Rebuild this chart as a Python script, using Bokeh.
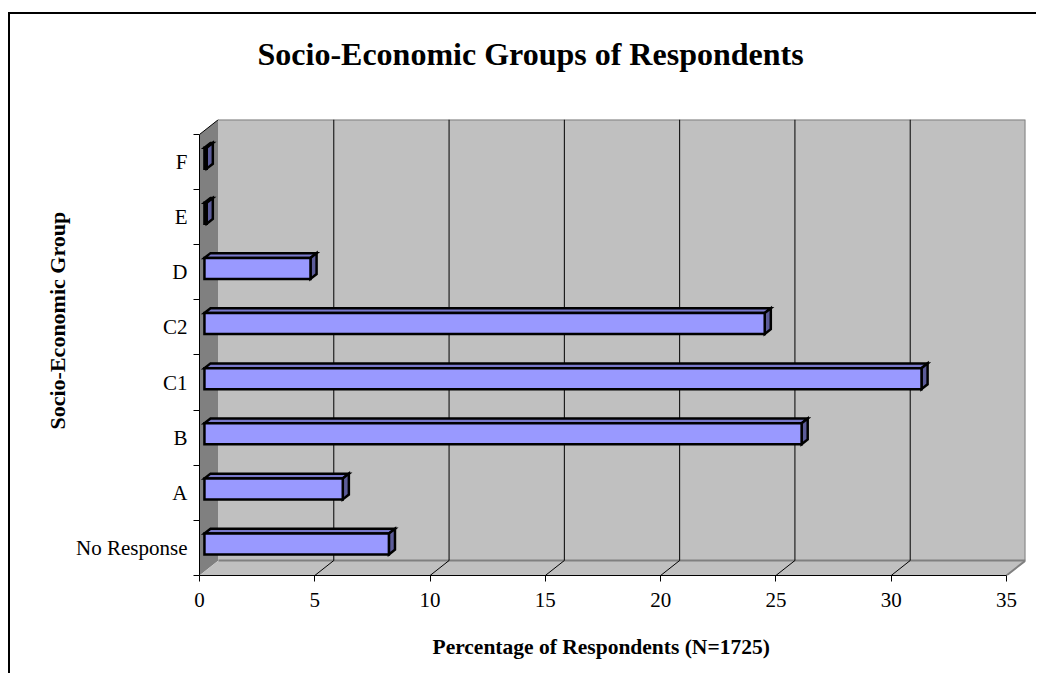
from bokeh.plotting import figure
from bokeh.models import Range1d, FixedTicker, Title, LinearAxis
from bokeh.embed import file_html
from bokeh.resources import INLINE

# ---- data -------------------------------------------------------------
groups = ["No Response", "A", "B", "C1", "C2", "D", "E", "F"]
percent = [8.0, 6.0, 25.9, 31.1, 24.3, 4.6, 0.1, 0.1]
x_ticks = [0, 5, 10, 15, 20, 25, 30, 35]

title_text = "Socio-Economic Groups of Respondents"
x_title = "Percentage of Respondents (N=1725)"
y_title = "Socio-Economic Group"

# ---- 3-D box geometry (data units) ------------------------------------
X_MAX = 35.0
N = len(groups)
DX, DY = 0.824, 0.272      # depth offset of the back wall
F1, F2 = 0.26, 0.58        # front / back depth of each bar
H = 0.19                   # half height of a bar

FRONT_FILL = "#9999FF"
TOP_FILL = "#7A7ACC"
SIDE_FILL = "#5C5C99"
WALL_FILL = "#C0C0C0"
SIDE_WALL_FILL = "#808080"
EDGE_GRAY = "#808080"

SERIF = "Liberation Serif"

W, HGT = 1028, 661
ML, MR, MT, MB = 189, 13, 105, 100

x0, x1 = 0.0, X_MAX + DX
y0, y1 = -0.5, N - 0.5 + DY

p = figure(width=W, height=HGT, output_backend="svg", toolbar_location=None,
           x_range=Range1d(x0, x1), y_range=Range1d(y0, y1),
           min_border_left=ML, min_border_right=MR,
           min_border_top=MT, min_border_bottom=MB)
p.styles = {"border-top": "2px solid black", "border-left": "2px solid black",
            "margin-left": "8px", "margin-top": "12px"}
p.xgrid.visible = False
p.ygrid.visible = False
p.outline_line_color = None
p.background_fill_color = "white"
p.border_fill_color = "white"

# ---- walls and floor --------------------------------------------------
p.patch([0, DX, DX, 0], [y0, y0 + DY, N - 0.5 + DY, N - 0.5],
        fill_color=SIDE_WALL_FILL, line_color=None)
p.patch([DX, X_MAX + DX, X_MAX + DX, DX], [y0 + DY, y0 + DY, y1, y1],
        fill_color=WALL_FILL, line_color=None)
p.patch([0, X_MAX, X_MAX + DX, DX], [y0, y0, y0 + DY, y0 + DY],
        fill_color=WALL_FILL, line_color=None)

# gray edges of the box
p.multi_line([[DX, X_MAX + DX, X_MAX + DX, X_MAX],
              [DX, X_MAX + DX]],
             [[y1, y1, y0 + DY, y0],
              [y0 + DY, y0 + DY]],
             line_color=EDGE_GRAY, line_width=2)

# grid lines on the back wall and the floor
inner = x_ticks[1:-1]
p.multi_line([[t + DX, t + DX] for t in inner], [[y0 + DY, y1] for _ in inner],
             line_color="black", line_width=1)
p.multi_line([[t, t + DX] for t in inner], [[y0, y0 + DY] for _ in inner],
             line_color="black", line_width=1)
# top edge of the side wall
p.line([0, DX], [N - 0.5, y1], line_color="black", line_width=1)

# ---- 3-D bars ---------------------------------------------------------
fl, bl = F1 * DX, F2 * DX
fdy, bdy = F1 * DY, F2 * DY
front_l = [fl for _ in percent]
front_r = [v + fl for v in percent]
front_b = [i - H + fdy for i in range(N)]
front_t = [i + H + fdy for i in range(N)]

top_xs = [[fl, v + fl, v + bl, bl] for v in percent]
top_ys = [[i + H + fdy, i + H + fdy, i + H + bdy, i + H + bdy] for i in range(N)]
side_xs = [[v + fl, v + bl, v + bl, v + fl] for v in percent]
side_ys = [[i - H + fdy, i - H + bdy, i + H + bdy, i + H + fdy] for i in range(N)]

p.patches(top_xs, top_ys, fill_color=TOP_FILL, line_color="black",
          line_width=2.5, line_join="miter")
p.patches(side_xs, side_ys, fill_color=SIDE_FILL, line_color="black",
          line_width=2.5, line_join="miter")
p.quad(left=front_l, right=front_r, bottom=front_b, top=front_t,
       fill_color=FRONT_FILL, line_color="black", line_width=2.5,
       line_join="miter")

# ---- axes -------------------------------------------------------------
xa = p.xaxis[0]
xa.ticker = FixedTicker(ticks=x_ticks)
xa.bounds = (0, X_MAX)
xa.major_tick_out = 6
xa.major_tick_in = 0
xa.minor_tick_out = 0
xa.minor_tick_in = 0
xa.axis_line_color = "black"
xa.major_tick_line_color = "black"
xa.major_label_standoff = 11
xa.major_label_text_font = SERIF
xa.major_label_text_font_size = "21px"
xa.major_label_text_color = "black"

ya = p.yaxis[0]
ya.ticker = FixedTicker(ticks=list(range(N)),
                        minor_ticks=[i - 0.5 for i in range(N + 1)])
ya.bounds = (-0.5, N - 0.5)
ya.major_label_overrides = {i: g for i, g in enumerate(groups)}
ya.major_tick_out = 0
ya.major_tick_in = 0
ya.minor_tick_out = 6
ya.minor_tick_in = 0
ya.minor_tick_line_color = "black"
ya.axis_line_color = "black"
ya.major_label_standoff = 6
ya.major_label_text_font = SERIF
ya.major_label_text_font_size = "21px"
ya.major_label_text_color = "black"


def gap(size):
    """A blank axis (one hidden tick, no label) that only reserves space."""
    mid = X_MAX / 2
    return LinearAxis(ticker=FixedTicker(ticks=[mid]), axis_line_color=None,
                      major_tick_line_color=None, minor_tick_line_color=None,
                      major_tick_out=size, major_tick_in=0,
                      minor_tick_out=0, minor_tick_in=0,
                      major_label_overrides={mid: ""},
                      major_label_text_color=None,
                      major_label_text_font_size="1px",
                      major_label_standoff=0)


# ---- captions ---------------------------------------------------------
p.add_layout(gap(48), "above")
p.add_layout(Title(text=title_text, align="left", offset=58, standoff=0,
                   text_font=SERIF, text_font_size="32px",
                   text_font_style="bold", text_color="black"), "above")
p.add_layout(gap(23), "below")
p.add_layout(Title(text=x_title, align="left", offset=233, standoff=0,
                   vertical_align="bottom",
                   text_font=SERIF, text_font_size="21.5px",
                   text_font_style="bold", text_color="black"), "below")
p.add_layout(Title(text=y_title, align="left", offset=146, standoff=7,
                   text_font=SERIF, text_font_size="22px",
                   text_font_style="bold", text_color="black"), "left")

open("out.html", "w").write(file_html(p, INLINE))
